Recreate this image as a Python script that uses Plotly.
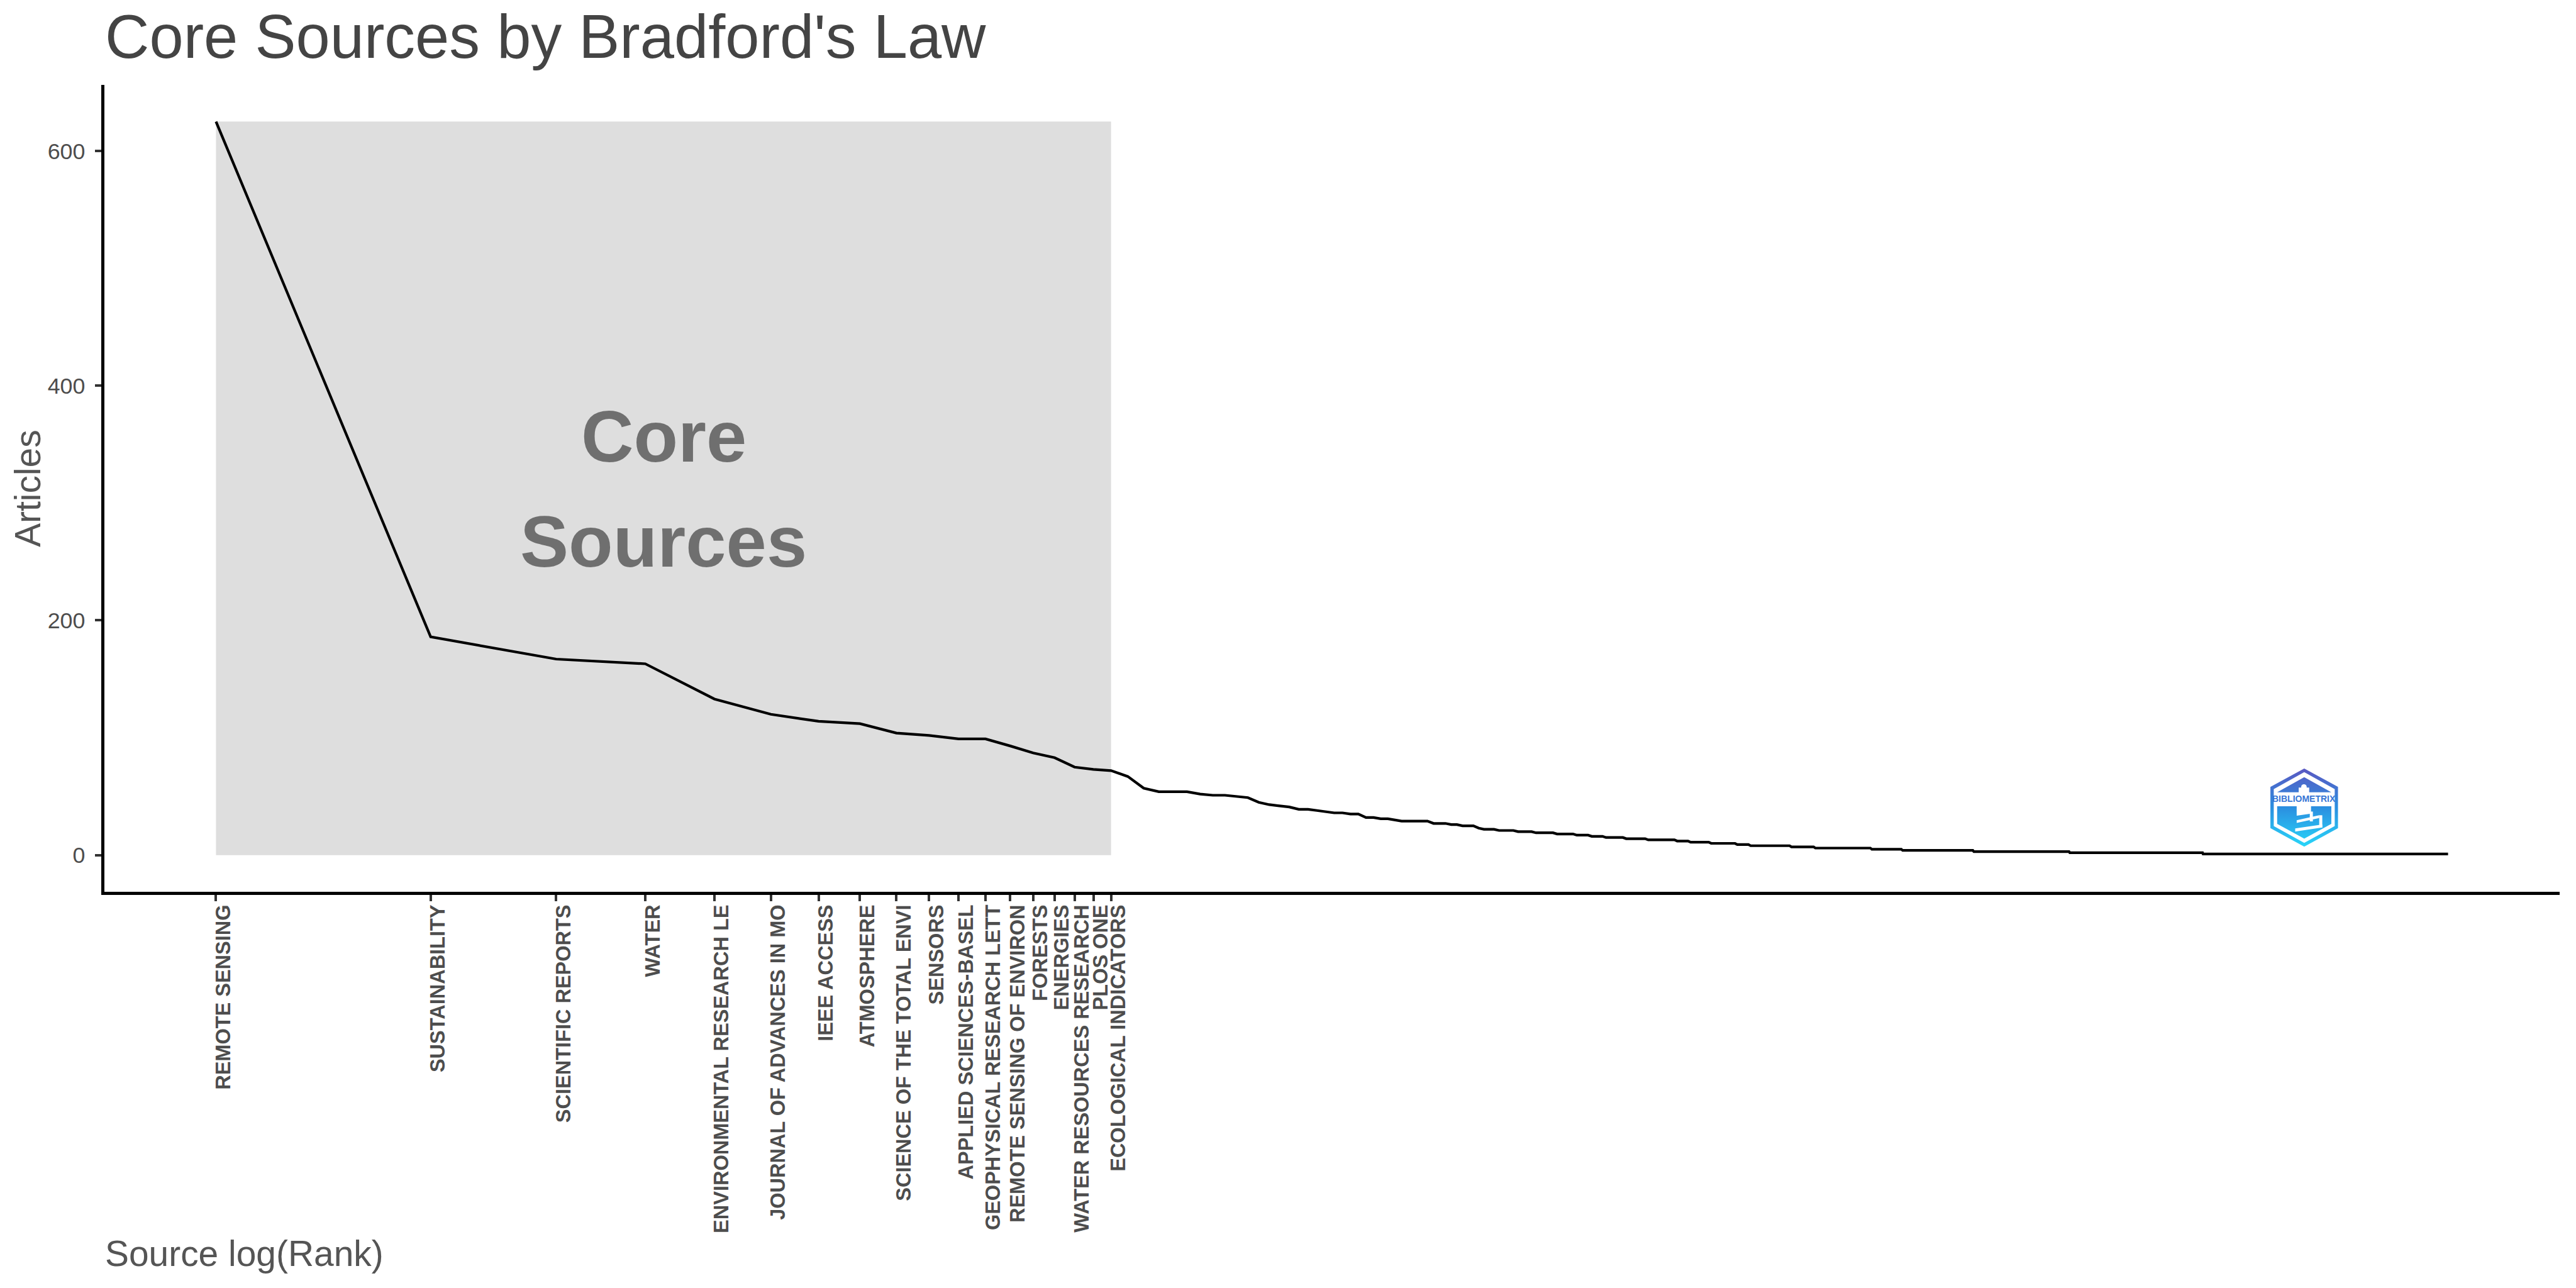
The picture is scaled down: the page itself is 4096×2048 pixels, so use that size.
import base64
import numpy as np
import plotly.graph_objects as go

# ---------------- data ----------------
core_sources = [
    "REMOTE SENSING", "SUSTAINABILITY", "SCIENTIFIC REPORTS", "WATER",
    "ENVIRONMENTAL RESEARCH LE", "JOURNAL OF ADVANCES IN MO", "IEEE ACCESS",
    "ATMOSPHERE", "SCIENCE OF THE TOTAL ENVI", "SENSORS", "APPLIED SCIENCES-BASEL",
    "GEOPHYSICAL RESEARCH LETT", "REMOTE SENSING OF ENVIRON", "FORESTS", "ENERGIES",
    "WATER RESOURCES RESEARCH", "PLOS ONE", "ECOLOGICAL INDICATORS",
]
core_articles = [625, 186, 167, 163, 133, 120, 114, 112, 104, 102, 99, 99, 93, 87, 83, 75, 73, 72]
# ranks 19..70
mid_articles = [67, 57, 54, 54, 54, 52, 51, 51, 50, 49,
                45, 43, 42, 41, 39, 39, 38, 37, 36, 36,
                35, 35, 32, 32, 31, 31, 30, 29, 29, 29,
                29, 29, 27, 27, 27, 26, 26, 25, 25, 25,
                23, 22, 22, 22, 21, 21, 21, 21, 20, 20,
                20, 20]
# remaining sources: article level and number of sources at that level
tail_levels = [19, 18, 17, 16, 15, 14, 13, 12, 11, 10, 9, 8, 7, 6, 5, 4, 3, 2, 1]
tail_counts = [5, 5, 4, 4, 6, 7, 10, 5, 8, 11, 6, 20, 13, 35, 22, 60, 106, 214, 739]

# ---------------- derived series ----------------
freq = list(core_articles) + list(mid_articles)
for lvl, cnt in zip(tail_levels, tail_counts):
    freq += [lvl] * cnt
freq = np.array(freq, dtype=float)
rank = np.arange(1, len(freq) + 1)
logr = np.log(rank)
n_core = len(core_sources)
fmax = freq.max()
L = logr[-1]

# ---------------- geometry (output px) ----------------
W, H = 4096, 2048
PL, PR, PT, PB = 165.75, 4069.65, 135.2, 1418.0


def px_x(p):
    return (p - PL) / (PR - PL)


def px_y(p):
    return (PB - p) / (PB - PT)


FONT = "Liberation Sans, Arial, sans-serif"

fig = go.Figure()

fig.add_shape(type="rect", xref="x", yref="y",
              x0=0, x1=logr[n_core - 1], y0=0, y1=fmax,
              fillcolor="rgba(89,89,89,0.2)", line=dict(width=0), layer="below")

fig.add_trace(go.Scatter(x=logr, y=freq, mode="lines",
                         line=dict(color="black", width=4.2),
                         hoverinfo="skip", showlegend=False))

fig.update_xaxes(
    range=[-0.05 * L, 1.05 * L],
    tickmode="array", tickvals=logr[:n_core], ticktext=core_sources,
    tickangle=-90, ticks="outside", ticklen=10.7, tickwidth=3.5, tickcolor="#333333",
    tickfont=dict(family=FONT, size=32.5, color="#4D4D4D", weight="bold"),
    ticklabelshift=12, ticklabelstandoff=-8,
    showline=True, linecolor="black", linewidth=4.5,
    showgrid=False, zeroline=False,
)
fig.update_yaxes(
    range=[-0.05 * fmax, 1.05 * fmax],
    tickmode="array", tickvals=[0, 200, 400, 600], ticktext=["0", "200", "400", "600"],
    ticks="outside", ticklen=10.7, tickwidth=3.5, tickcolor="#333333",
    tickfont=dict(family=FONT, size=35.8, color="#4D4D4D"),
    ticklabelstandoff=8,
    showline=True, linecolor="black", linewidth=4.5,
    showgrid=False, zeroline=False,
)

ann = []
ann.append(dict(text="Core Sources by Bradford's Law", xref="paper", yref="paper",
                x=0, xanchor="left", y=px_y(58.7), yanchor="middle", showarrow=False,
                borderpad=0, font=dict(family=FONT, size=97.5, color="#444444")))
ann.append(dict(text="Source log(Rank)", xref="paper", yref="paper",
                x=0, xanchor="left", y=px_y(1993), yanchor="middle", showarrow=False,
                borderpad=0, font=dict(family=FONT, size=56.9, color="#555555")))
ann.append(dict(text="Articles", xref="paper", yref="paper", textangle=-90,
                x=px_x(43.1), xanchor="center", y=0.5, yanchor="middle", showarrow=False,
                borderpad=0, font=dict(family=FONT, size=56.9, color="#555555")))
for txt, shift in (("Core", 82.9), ("Sources", -84.3)):
    ann.append(dict(text=txt, xref="x", yref="y", x=logr[n_core - 1] / 2, y=fmax / 2,
                    yshift=shift, xanchor="center", yanchor="middle", showarrow=False,
                    borderpad=0,
                    font=dict(family=FONT, size=115.6, color="rgba(0,0,0,0.5)", weight="bold")))

# ---------------- logo (decoration) ----------------
svg = """<svg xmlns="http://www.w3.org/2000/svg" viewBox="0 0 110 127" width="110" height="127">
<defs><linearGradient id="g" gradientUnits="userSpaceOnUse" x1="0" y1="0" x2="0" y2="127">
<stop offset="0" stop-color="#5A58C2"/><stop offset="0.5" stop-color="#2B8FE0"/>
<stop offset="1" stop-color="#29D6F9"/></linearGradient></defs>
<polygon points="55,0 110,30 110,97 55,127 0,97 0,30" fill="url(#g)"/>
<polygon points="55,6 104.5,33.5 104.5,93.5 55,121 5.5,93.5 5.5,33.5" fill="#ffffff"/>
<polygon points="55,14 99,38.5 11,38.5" fill="url(#g)"/>
<polygon points="11,61.5 99,61.5 99,90 55,114 11,90" fill="url(#g)"/>
<rect x="46" y="31" width="17" height="12" fill="#ffffff"/>
<circle cx="54.5" cy="30" r="4.5" fill="#ffffff"/>
<polygon points="42.7,61.5 66,61.5 66,73.3 42.7,76.7" fill="#ffffff"/>
<polygon points="42.7,84 79.3,76 79.3,80.5 42.7,88.5" fill="#ffffff"/>
<polygon points="40.3,97.5 84.3,91 84.3,96 40.3,102.5" fill="#ffffff"/>
<rect x="64" y="70" width="5" height="16" fill="#ffffff"/>
<rect x="79.3" y="76" width="5" height="20" fill="#ffffff"/>
</svg>"""
logo_src = "data:image/svg+xml;base64," + base64.b64encode(svg.encode()).decode()
lx0, lx1, ly0, ly1 = 3609.7, 3717.4, 1222.0, 1346.2
fig.add_layout_image(dict(source=logo_src, xref="paper", yref="paper",
                          x=px_x(lx0), y=px_y(ly0), sizex=px_x(lx1) - px_x(lx0),
                          sizey=px_y(ly0) - px_y(ly1), xanchor="left", yanchor="top",
                          sizing="stretch", layer="above"))
ann.append(dict(text="BIBLIOMETRIX", xref="paper", yref="paper",
                x=px_x((lx0 + lx1) / 2), y=px_y(ly0 + 48.8 * 0.975), xanchor="center",
                yanchor="middle", showarrow=False, borderpad=0,
                font=dict(family=FONT, size=14, color="#3676D6", weight="bold")))

fig.update_layout(
    width=W, height=H, autosize=False,
    margin=dict(l=PL, r=W - PR, t=PT, b=H - PB, pad=0),
    paper_bgcolor="white", plot_bgcolor="white",
    annotations=ann, showlegend=False,
)

fig.write_html("out.html")
